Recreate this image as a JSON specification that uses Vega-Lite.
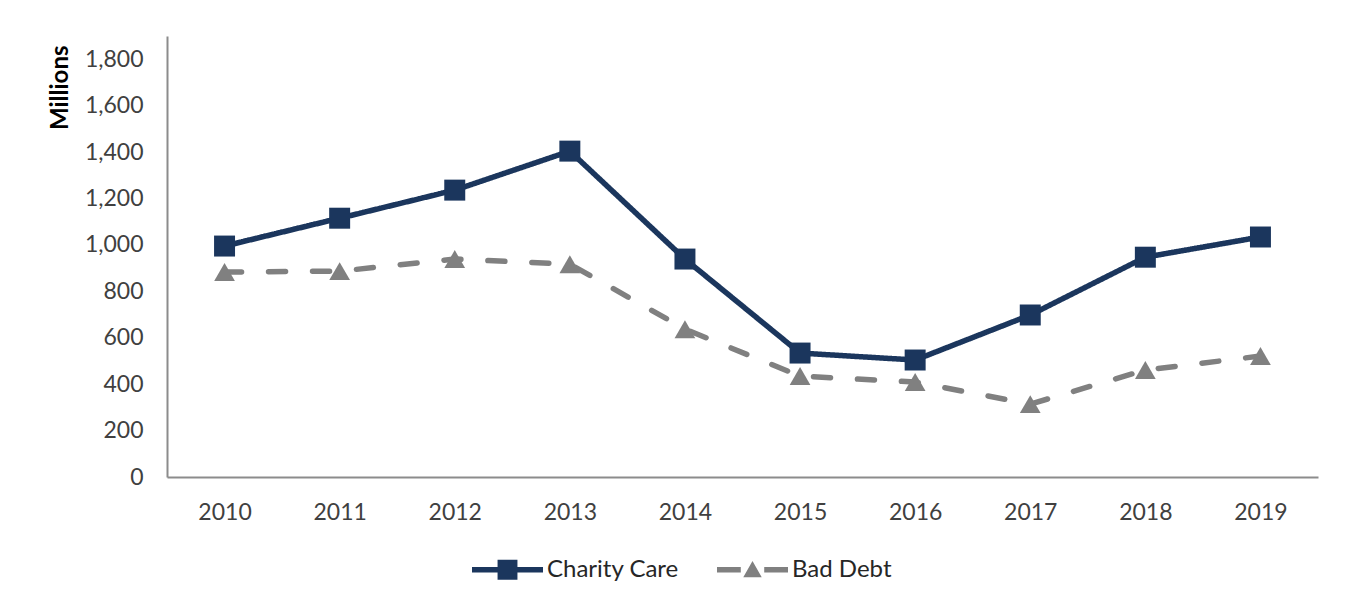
{
  "$schema": "https://vega.github.io/schema/vega-lite/v6.json",
  "autosize": "none",
  "width": 1151,
  "height": 441,
  "padding": {"left": 167, "top": 36, "right": 34, "bottom": 128},
  "background": "white",
  "config": {
    "view": {"stroke": null},
    "font": "Lato",
    "axis": {"labelFont": "Lato", "titleFont": "Lato", "labelColor": "#404040", "titleColor": "#000000", "domainColor": "#8C8C8C", "domainWidth": 2, "ticks": false, "grid": false}
  },
  "data": {
    "values": [
      {"year": "2010", "series": "Charity Care", "value": 995},
      {"year": "2011", "series": "Charity Care", "value": 1115},
      {"year": "2012", "series": "Charity Care", "value": 1236},
      {"year": "2013", "series": "Charity Care", "value": 1404},
      {"year": "2014", "series": "Charity Care", "value": 939},
      {"year": "2015", "series": "Charity Care", "value": 534},
      {"year": "2016", "series": "Charity Care", "value": 504},
      {"year": "2017", "series": "Charity Care", "value": 698},
      {"year": "2018", "series": "Charity Care", "value": 947},
      {"year": "2019", "series": "Charity Care", "value": 1034},
      {"year": "2010", "series": "Bad Debt", "value": 883},
      {"year": "2011", "series": "Bad Debt", "value": 887},
      {"year": "2012", "series": "Bad Debt", "value": 939},
      {"year": "2013", "series": "Bad Debt", "value": 917},
      {"year": "2014", "series": "Bad Debt", "value": 637},
      {"year": "2015", "series": "Bad Debt", "value": 435},
      {"year": "2016", "series": "Bad Debt", "value": 409},
      {"year": "2017", "series": "Bad Debt", "value": 314},
      {"year": "2018", "series": "Bad Debt", "value": 461},
      {"year": "2019", "series": "Bad Debt", "value": 521}
    ]
  },
  "encoding": {
    "x": {
      "field": "year", "type": "ordinal",
      "scale": {"type": "point", "padding": 0.5},
      "axis": {"title": null, "labelAngle": 0, "labelFontSize": 23, "labelPadding": 24, "domainWidth": 2}
    },
    "y": {
      "field": "value", "type": "quantitative",
      "scale": {"domain": [0, 1900], "nice": false},
      "axis": {"title": "Millions", "values": [0,200,400,600,800,1000,1200,1400,1600,1800], "format": ",d", "labelFontSize": 23, "labelPadding": 24, "titleFontSize": 24, "titleFontWeight": "bold", "titleAnchor": "end", "titleY": 9, "titlePadding": 12}
    },
    "color": {
      "field": "series", "type": "nominal",
      "scale": {"domain": ["Charity Care", "Bad Debt"], "range": ["#1B365D", "#808080"]},
      "legend": {
        "title": null, "orient": "none", "direction": "horizontal",
        "legendX": 305, "legendY": 498,
        "symbolSize": 5041, "labelFontSize": 24, "labelColor": "#262626", "labelFont": "Lato",
        "labelOffset": 4, "columnPadding": 38, "symbolStrokeWidth": 0,
        "encode": {
          "symbols": {
            "update": {
              "shape": {"signal": "datum.value === 'Charity Care' ? 'M-1,-0.075H1V0.075H-1Z M-0.28,-0.28H0.28V0.28H-0.28Z' : 'M-1,-0.075H-0.33V0.075H-1Z M0.33,-0.075H1V0.075H0.33Z M-0.26,0.21L0,-0.25L0.26,0.21Z'"},
              "fill": {"signal": "datum.value === 'Charity Care' ? '#1B365D' : '#808080'"},
              "size": {"value": 5041},
              "strokeWidth": {"value": 0},
              "opacity": {"value": 1}
            }
          }
        }
      }
    }
  },
  "layer": [
    {
      "mark": {"type": "line", "strokeWidth": 5.5, "strokeCap": "round"},
      "encoding": {
        "strokeDash": {
          "field": "series", "type": "nominal",
          "scale": {"domain": ["Charity Care", "Bad Debt"], "range": [[1, 0], [17, 27]]},
          "legend": null
        }
      }
    },
    {
      "transform": [{"filter": "datum.series === 'Charity Care'"}],
      "mark": {"type": "point", "filled": true, "opacity": 1, "shape": "square", "size": 440}
    },
    {
      "transform": [{"filter": "datum.series === 'Bad Debt'"}],
      "mark": {"type": "point", "filled": true, "opacity": 1, "shape": "triangle-up", "size": 430}
    }
  ]
}
